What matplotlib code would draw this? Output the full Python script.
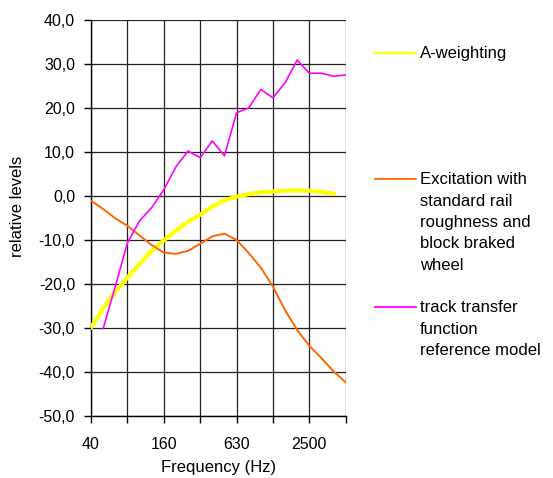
import numpy as np
import matplotlib.pyplot as plt
from matplotlib.lines import Line2D
from matplotlib.ticker import FuncFormatter

plt.rcParams['font.family'] = ['Liberation Sans', 'DejaVu Sans']

# 1/3 octave bands (category axis)
bands = [40, 50, 63, 80, 100, 125, 160, 200, 250, 315, 400, 500, 630, 800,
         1000, 1250, 1600, 2000, 2500, 3150, 4000, 5000]
labelled = {40: "40", 160: "160", 630: "630", 2500: "2500"}

a_weighting = [-29.9, -25.6, -21.8, -18.6, -15.5, -12.5, -10.1, -7.9, -5.9, -4.3,
               -2.4, -1.0, -0.2, 0.4, 0.8, 1.0, 1.2, 1.2, 1.2, 0.9, 0.5, np.nan]
excitation = [-1.1, -3.0, -5.1, -6.8, -9.0, -11.2, -12.9, -13.2, -12.5, -10.9,
              -9.2, -8.6, -10.0, -13.0, -16.3, -20.6, -26.0, -30.5, -34.1, -36.9,
              -39.9, -42.4]
track_transfer = [np.nan, -30.2, -20.6, -10.7, -5.7, -2.7, 1.4, 6.6, 10.2, 8.7,
                  12.5, 9.1, 18.9, 20.0, 24.2, 22.3, 25.7, 30.9, 27.9, 27.9,
                  27.2, 27.5]

series = [
    ("A-weighting", a_weighting, "#FFFF00", 3.0, 1.6),
    ("Excitation with\nstandard rail\nroughness and\nblock braked\nwheel", excitation, "#FF6600", 1.4, 1.3),
    ("track transfer\nfunction\nreference model", track_transfer, "#FF00FF", 1.2, 1.3),
]


def main():
    fig = plt.figure(figsize=(5.53, 4.78), dpi=100)
    ax = fig.add_axes([0.1646, 0.1303, 0.4605, 0.8279])
    x = np.arange(len(bands))

    for label, vals, color, lw, _ in series:
        ax.plot(x, vals, color=color, lw=lw, solid_joinstyle="round", zorder=3)

    ax.set_xlim(0, len(bands) - 1)
    ax.set_ylim(-50, 40)
    ax.set_yticks(np.arange(-50, 41, 10))
    ax.yaxis.set_major_formatter(FuncFormatter(lambda v, p: f"{v:.1f}".replace(".", ",")))
    xt = x[::3]
    ax.set_xticks(xt)
    ax.set_xticklabels([labelled.get(bands[i], "") for i in xt])
    ax.grid(True, color="#222222", lw=0.9)
    ax.set_axisbelow(True)
    for s in ["top", "right"]:
        ax.spines[s].set_visible(False)
    ax.spines["left"].set_linewidth(1.0)
    ax.spines["bottom"].set_linewidth(1.0)
    ax.tick_params(direction="out", length=5, width=1.0, labelsize=11.5)
    ax.tick_params(axis="y", pad=6.5)
    ax.tick_params(axis="x", pad=10)

    ax.set_xlabel("Frequency (Hz)", fontsize=12)
    ax.set_ylabel("relative levels", fontsize=12)
    ax.xaxis.set_label_coords(0.5, -0.112)
    ax.yaxis.set_label_coords(-0.259, 0.53)

    # legend on the right, Excel style
    ys = [52.7, 179.3, 307.3]
    H = 478.0
    W = 553.0
    for (label, vals, color, lw, leg_lw), yy in zip(series, ys):
        yf = 1 - yy / H
        fig.add_artist(Line2D([375 / W, 416 / W], [yf, yf], color=color,
                              lw=leg_lw, transform=fig.transFigure))
        fig.text(420 / W, yf + 7 / H, label, fontsize=12, va="top", ha="left",
                 linespacing=1.53, transform=fig.transFigure)

    fig.savefig("out.png", dpi=100)
    plt.close(fig)


if __name__ == "__main__":
    main()
